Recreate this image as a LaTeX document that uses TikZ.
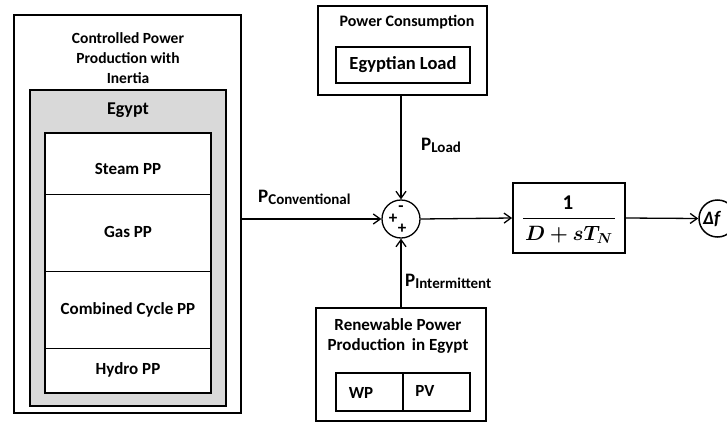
\documentclass[tikz,border=0pt]{standalone}
\usepackage{fontspec}
\setmainfont{Carlito}
\usepackage{amsmath,bm}
\usetikzlibrary{arrows.meta}
\definecolor{boxgray}{RGB}{217,217,217}
\begin{document}
\begin{tikzpicture}[x=1pt,y=-1pt,
  thickbox/.style={draw=black,line width=1.8pt},
  thinbox/.style={draw=black,line width=1.2pt},
  lbl/.style={font=\bfseries\fontsize{16}{19}\selectfont,align=center,inner sep=0pt},
  inlbl/.style={font=\bfseries\fontsize{17}{19}\selectfont,align=center,inner sep=0pt},
  sig/.style={draw=black,line width=1.3pt,-{Straight Barb[length=7pt,width=10pt,line width=1.3pt]}},
  plbl/.style={font=\bfseries\fontsize{19}{21}\selectfont,inner sep=0pt,anchor=base west},
  sgn/.style={font=\bfseries\fontsize{17}{17}\selectfont,inner sep=0pt}
]
\useasboundingbox (0,0) rectangle (727,423);
\fill[white] (0,0) rectangle (727,423);
% controlled power production
\draw[thickbox] (14,15) rectangle (241,413);
\node[lbl,font=\bfseries\fontsize{15.5}{20}\selectfont] (ctitle) at (128,58) {Controlled Power\\Production with\\Inertia};
\draw[thickbox,fill=boxgray] (30,90) rectangle (226,406);
\node[inlbl,font=\bfseries\fontsize{18}{20}\selectfont] (egypt) at (128,110) {Egypt};
\draw[thinbox,fill=white] (45,133) rectangle (211,393);
\draw[line width=1pt] (45,194) -- (211,194);
\draw[line width=1pt] (45,271) -- (211,271);
\draw[line width=1pt] (45,348) -- (211,348);
\node[inlbl] (steam) at (128,169) {Steam PP};
\node[inlbl] (gas) at (128,232) {Gas PP};
\node[inlbl] (cc) at (128,310) {Combined Cycle PP};
\node[inlbl] (hydro) at (128,370) {Hydro PP};
\coordinate (convout) at (241,219);
% sum
\node[draw=black,line width=1.3pt,circle,minimum size=38pt,inner sep=0pt] (sum) at (401,219) {};
\node[sgn] (sminus) at (401,208.5) {-};
\node[sgn] (splus1) at (393,218.5) {+};
\node[sgn] (splus2) at (402,228.5) {+};
% power consumption
\draw[thickbox] (318,6) rectangle (487,95);
\node[lbl] (pctitle) at (407,22) {Power Consumption};
\node[thinbox,minimum width=134pt,minimum height=36pt,inner sep=0pt,font=\bfseries\fontsize{18.5}{20}\selectfont] (load) at (403,65) {Egyptian Load};
\coordinate (pcbot) at (401,95);
% renewable
\draw[thickbox] (316,308) rectangle (486,421);
\coordinate (rntop) at (401,308);
\node[inlbl,font=\bfseries\fontsize{17}{20}\selectfont] (rntitle) at (398,336) {Renewable Power\\Production\, in Egypt};
\draw[thinbox] (336,373) rectangle (470,411);
\draw[line width=1.1pt] (403,373) -- (403,411);
\node[inlbl] (wp) at (361,393) {WP};
\node[inlbl] (pv) at (425,391) {PV};
% transfer function
\node[draw=black,line width=1.8pt,minimum width=112pt,minimum height=70pt,inner sep=0pt] (tf) at (569,218) {};
\node[inner sep=0pt,font=\fontsize{21}{23}\selectfont] (tfnum) at (568,202.5) {$\mathbf{1}$};
\draw[line width=0.9pt] (523,218) -- (615,218);
\node[inner sep=0pt,anchor=base,font=\fontsize{21}{23}\selectfont] (tfden) at (569,240) {$\bm{D+sT_N}$};
% delta f
\node[draw=black,line width=1.5pt,circle,minimum size=37pt,inner sep=0pt] (df) at (717.5,218.5) {};
\node[inner sep=0pt,anchor=west,font=\bfseries\itshape\fontsize{19}{19}\selectfont] (dftxt) at (703,219) {Δf};
% connectors
\draw[sig] (convout) -- (sum.west);
\draw[sig] (pcbot) -- (sum.north);
\draw[sig] (rntop) -- (sum.south);
\draw[sig] (sum.east) -- (tf.west);
\draw[sig] (tf.east) -- (df.west);
% labels
\node[plbl] (pconv) at (258,202) {P\raisebox{-0.3ex}{\fontsize{15}{15}\selectfont Conventional}};
\node[plbl] (pload) at (421,150) {P\raisebox{-0.3ex}{\fontsize{15}{15}\selectfont Load}};
\node[plbl] (pint) at (405,286) {P\raisebox{-0.3ex}{\fontsize{15}{15}\selectfont Intermittent}};
\end{tikzpicture}
\end{document}
